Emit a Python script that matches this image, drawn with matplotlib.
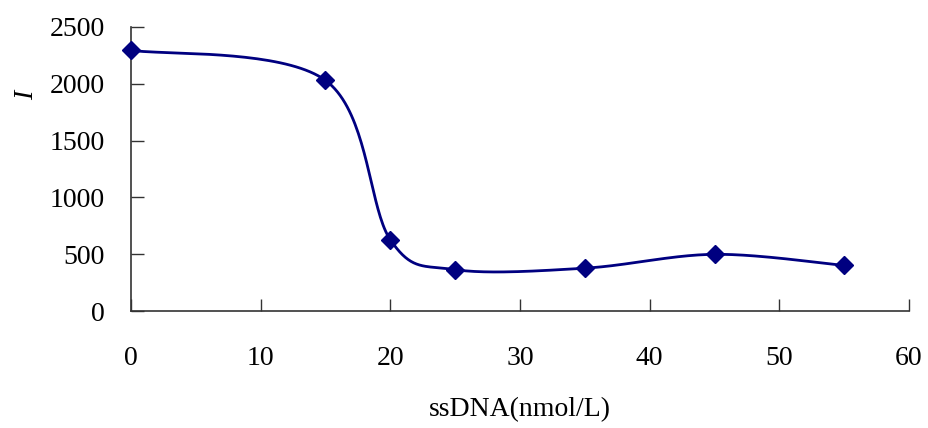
import numpy as np
import matplotlib
matplotlib.use("Agg")
import matplotlib.pyplot as plt

# data
conc = [0, 15, 20, 25, 35, 45, 55]          # ssDNA (nmol/L)
intensity = [2295, 2030, 628, 365, 378, 500, 402]
x_ticks = [0, 10, 20, 30, 40, 50, 60]
y_ticks = [0, 500, 1000, 1500, 2000, 2500]

navy = "#000080"


def smooth(xs, ys, n=40):
    # Excel-like smoothed line: Catmull-Rom segments through the points
    xs, ys = np.asarray(xs, float), np.asarray(ys, float)
    px = np.concatenate([[xs[0]], xs, [xs[-1]]])
    py = np.concatenate([[ys[0]], ys, [ys[-1]]])
    outx, outy = [], []
    t = np.linspace(0, 1, n)
    for i in range(1, len(px) - 2):
        p0x, p1x, p2x, p3x = px[i - 1], px[i], px[i + 1], px[i + 2]
        p0y, p1y, p2y, p3y = py[i - 1], py[i], py[i + 1], py[i + 2]
        c1x, c1y = p1x + (p2x - p0x) / 6, p1y + (p2y - p0y) / 6
        c2x, c2y = p2x - (p3x - p1x) / 6, p2y - (p3y - p1y) / 6
        bx = (1 - t) ** 3 * p1x + 3 * (1 - t) ** 2 * t * c1x + 3 * (1 - t) * t ** 2 * c2x + t ** 3 * p2x
        by = (1 - t) ** 3 * p1y + 3 * (1 - t) ** 2 * t * c1y + 3 * (1 - t) * t ** 2 * c2y + t ** 3 * p2y
        outx.extend(bx)
        outy.extend(by)
    return outx, outy


plt.rcParams["font.family"] = ["Liberation Serif", "DejaVu Serif"]

fig = plt.figure(figsize=(9.29, 4.28), dpi=100)
ax = fig.add_axes([0.141, 0.273, 0.8375, 0.664])

sx, sy = smooth(conc, intensity)
ax.plot(sx, sy, color=navy, lw=2, clip_on=False, zorder=3)
ax.plot(conc, intensity, ls="none", marker="D", ms=9, color=navy, clip_on=False, zorder=4)

ax.set_xlim(0, 60)
ax.set_ylim(0, 2500)
ax.set_xticks(x_ticks)
ax.set_yticks(y_ticks)
ax.tick_params(direction="in", length=9, width=1, labelsize=20, color="#333333")
ax.tick_params(axis="x", pad=25)
ax.tick_params(axis="y", pad=19)
for s in ["top", "right"]:
    ax.spines[s].set_visible(False)
for s in ["left", "bottom"]:
    ax.spines[s].set_color("#333333")
    ax.spines[s].set_linewidth(1.2)

ax.set_xlabel("ssDNA(nmol/L)", fontsize=20, labelpad=19)
fig.text(0.029, 0.778, "I", fontsize=20, style="italic", rotation=90, ha="center", va="center")

fig.savefig("out.png", dpi=100)
